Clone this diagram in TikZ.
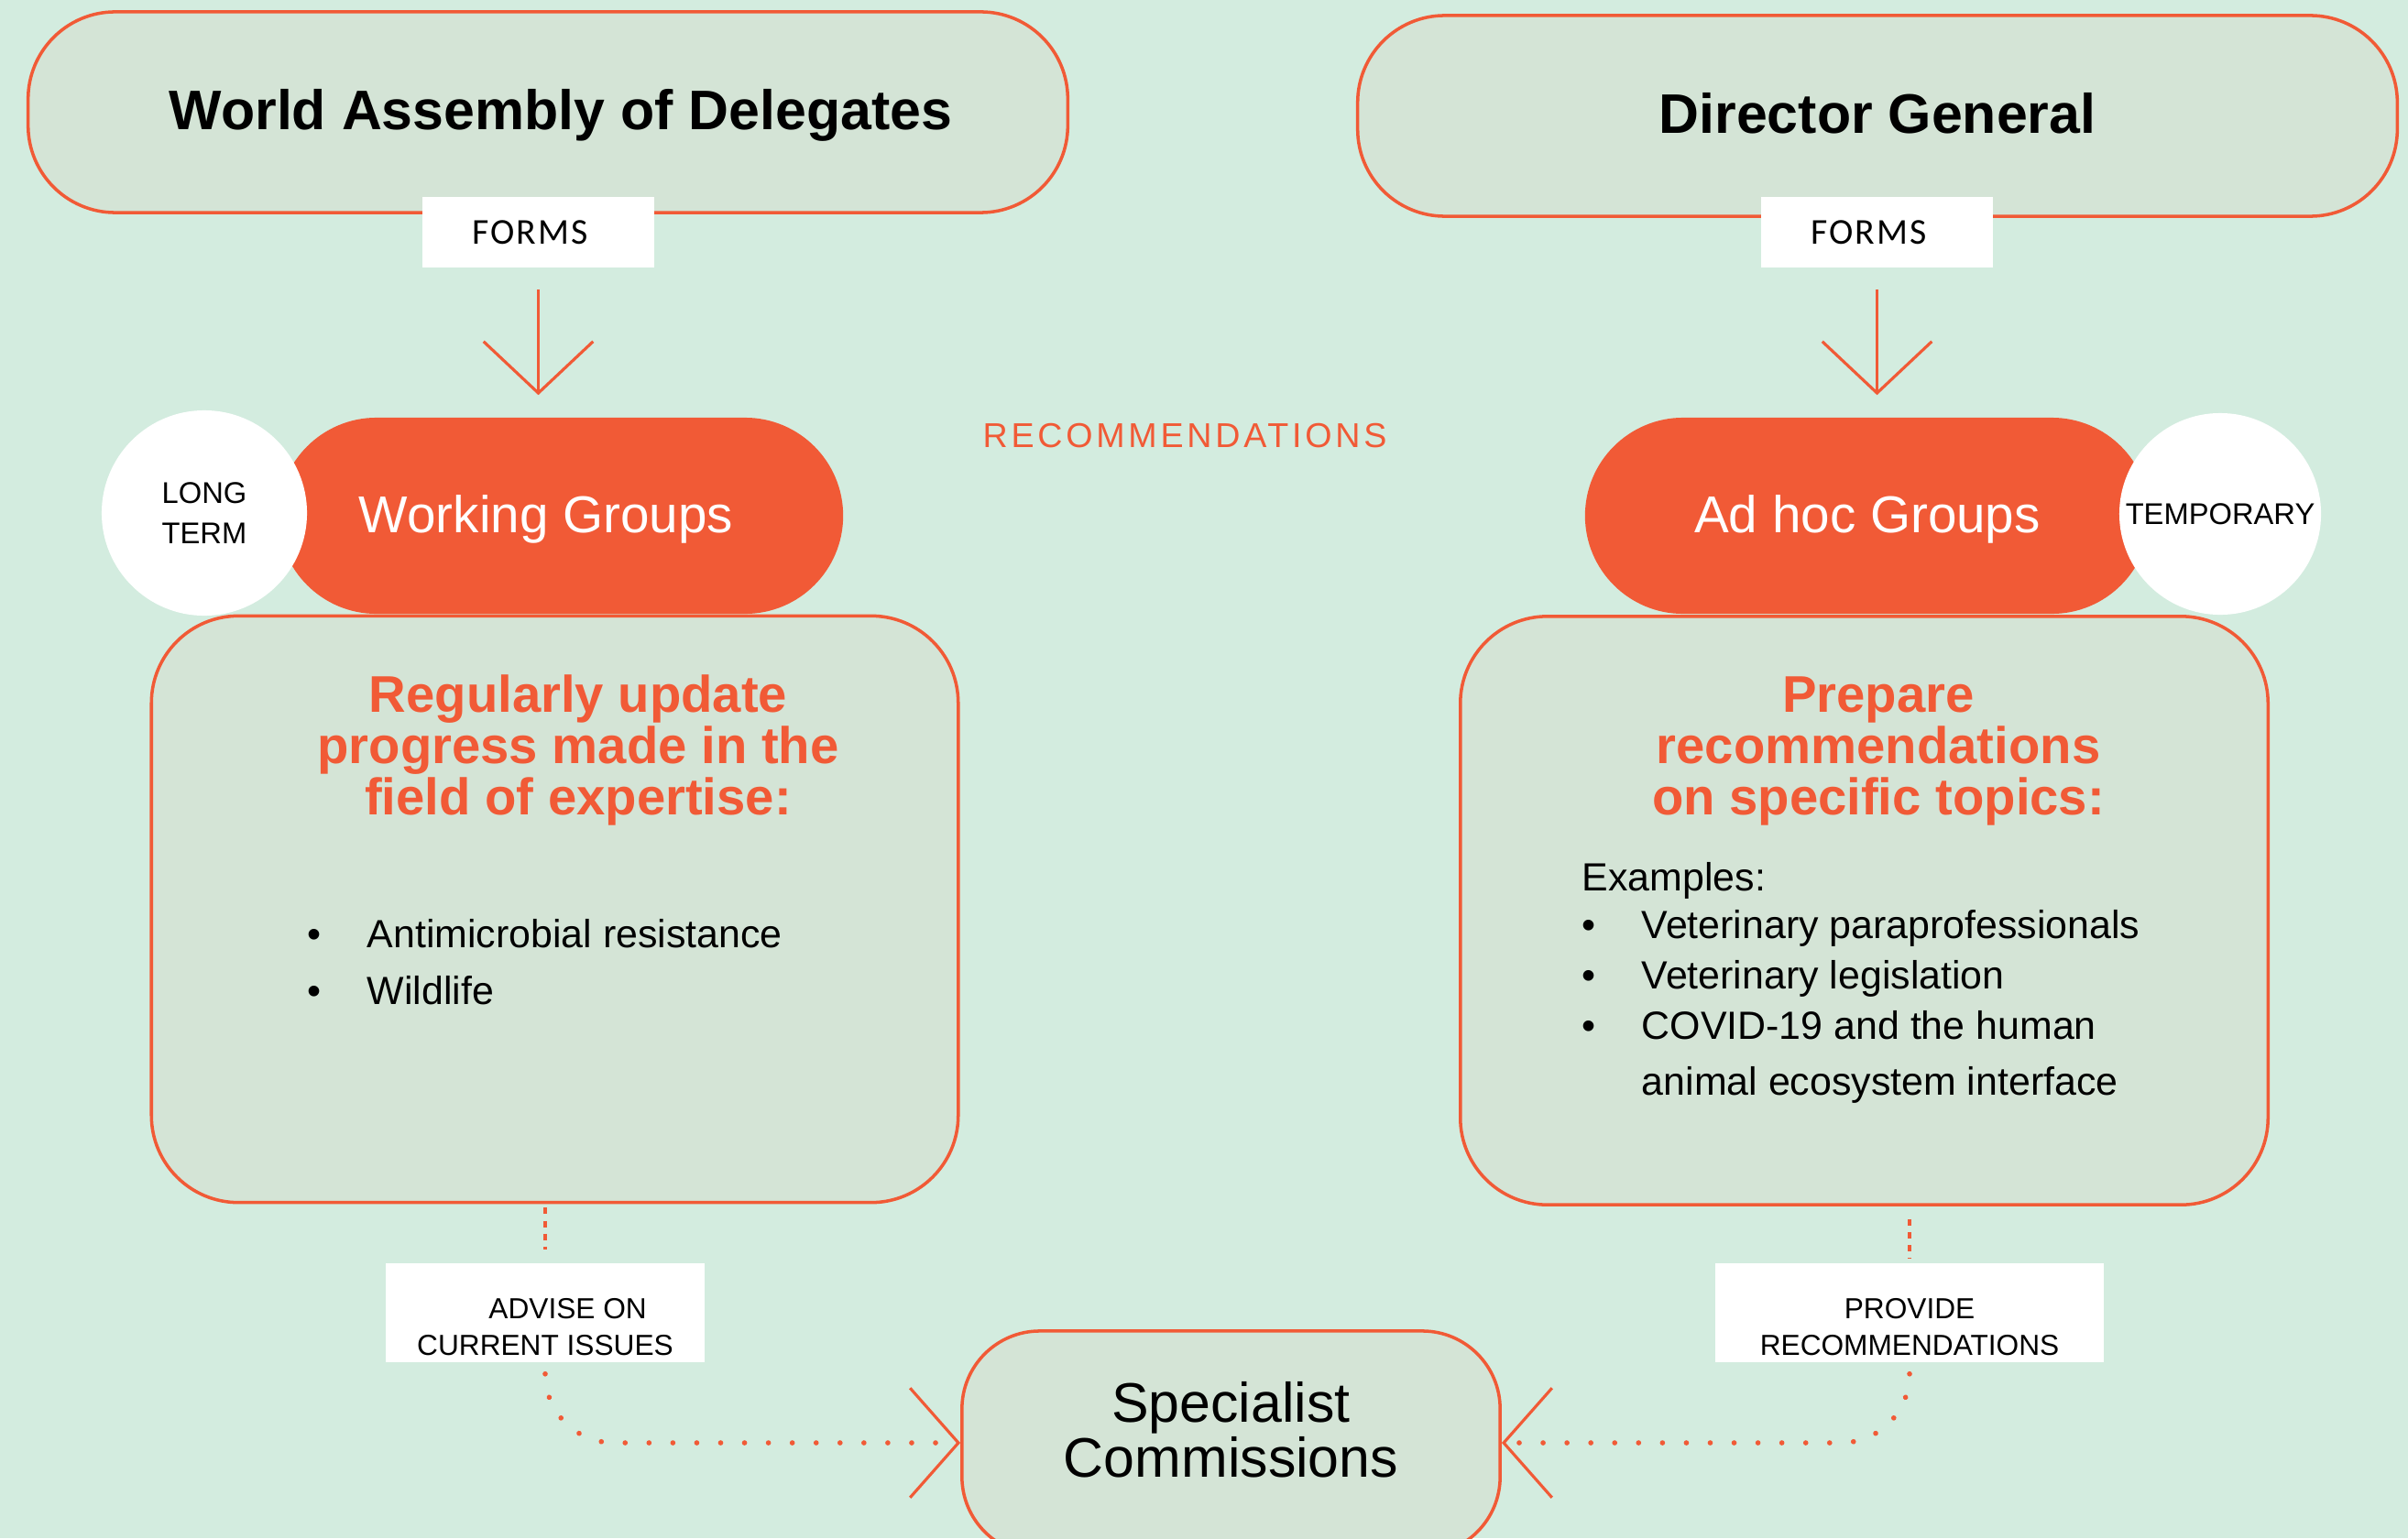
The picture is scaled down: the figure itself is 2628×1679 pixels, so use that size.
\documentclass[tikz,border=0pt]{standalone}
\usepackage{fontspec}
\setmainfont{Liberation Sans}
\newfontfamily\formsfont[LetterSpace=5]{Carlito}
\newfontfamily\spacedfont[LetterSpace=10]{Liberation Sans}
\usepackage{xcolor}
\usepackage{tikz}
\usetikzlibrary{arrows.meta,positioning}

\definecolor{bgmint}{HTML}{D3ECDF}
\definecolor{boxfill}{HTML}{D4E4D6}
\definecolor{oieorange}{HTML}{F15A36}
\newcommand{\bul}{\makebox[18.5pt][l]{•}}

\begin{document}
\begin{tikzpicture}[x=0.01cm, y=-0.01cm,
	topbox/.style={draw=oieorange, line width=1pt, fill=boxfill, rounded corners=0.95cm, text depth=1.5pt,
		minimum width=11.34cm, minimum height=2.19cm, font=\bfseries\fontsize{17.3}{20}\selectfont},
	pill/.style={fill=oieorange, rounded corners=1.07cm, minimum width=6.16cm, minimum height=2.14cm,
		text depth=1pt, text=white, font=\fontsize{16.1}{19}\selectfont},
	tag/.style={circle, fill=white, minimum size=2.24cm, inner sep=0pt, align=left,
		font=\fontsize{9.3}{12.4}\selectfont},
	taskbox/.style={draw=oieorange, line width=1pt, fill=boxfill, rounded corners=0.95cm,
		minimum width=8.8cm, minimum height=6.4cm},
	tasktitle/.style={align=center, anchor=base, text=oieorange, font=\bfseries\fontsize{16}{15.9}\selectfont},
	tasklist/.style={align=left, anchor=base west, inner sep=0pt, font=\fontsize{12.2}{15.6}\selectfont},
	formslabel/.style={fill=white, minimum width=2.53cm, minimum height=0.77cm,
		font=\formsfont\fontsize{11.3}{13}\selectfont},
	linklabel/.style={fill=white, minimum height=1.08cm, inner ysep=0pt, align=center, text height=26.2pt,
		text depth=0pt, font=\fontsize{9}{11.4}\selectfont},
	formsarrow/.style={draw=oieorange, line width=0.9pt, -{Straight Barb[length=16pt, width=34pt]}},
	stubdots/.style={draw=oieorange, line width=1.4pt, dash pattern=on 2pt off 2pt},
	linkdots/.style={draw=oieorange, line width=1.6pt, line cap=round, dash pattern=on 0.01pt off 7.4pt,
		rounded corners=0.75cm, -{Straight Barb[length=15pt, width=34pt, line width=0.9pt]}},
]
	\useasboundingbox (0,0) rectangle (2628,1679);
	\fill[bgmint] (0,0) rectangle (2628,1679);
	%
	\node[topbox] (wad) at (598,122.5) {\hspace*{0.28cm}World Assembly of Delegates};
	\node[topbox] (dg) at (2049,126.5) {Director General};
	\node[formslabel] (forms1) at (587.5,253.5) {\hspace*{-0.18cm}FORMS};
	\node[formslabel] (forms2) at (2048.5,253.5) {\hspace*{-0.18cm}FORMS};
	%
	\node[pill] (wg) at (612,563) {\hspace*{-0.32cm}Working Groups};
	\node[pill] (ag) at (2038,563) {Ad hoc Groups};
	\node[tag] (longterm) at (223,560) {LONG\\TERM};
	\node[tag, minimum size=2.2cm] (temporary) at (2423,561) {TEMPORARY};
	\draw[formsarrow, shorten <=0.23cm, shorten >=0.24cm] (forms1.south) -- (forms1.south |- wg.north);
	\draw[formsarrow, shorten <=0.23cm, shorten >=0.24cm] (forms2.south) -- (forms2.south |- ag.north);
	\node[text=oieorange, font=\spacedfont\fontsize{10.7}{12}\selectfont] (recs) at (1293,476) {RECOMMENDATIONS};
	%
	\node[taskbox] (wgtask) at (605.5,992.5) {};
	\node[taskbox, minimum width=8.81cm, minimum height=6.42cm] (agtask) at (2034.5,994) {};
	\node[tasktitle] (wgtitle) at (631,889) {Regularly update\\progress made in the\\field of expertise:};
	\node[tasktitle] (agtitle) at (2050,889) {Prepare\\recommendations\\on specific topics:};
	\node[tasklist] (wglist) at (335,1096) {\bul Antimicrobial resistance\\[1.8pt]\bul Wildlife};
	\node[tasklist] (aglist) at (1726,1195) {Examples:\\[-0.8pt]\bul Veterinary paraprofessionals\\
		\bul Veterinary legislation\\\bul COVID-19 and the human\\[1.7pt]\hspace*{18.5pt}animal ecosystem interface};
	%
	\node[draw=oieorange, line width=1pt, fill=boxfill, rounded corners=0.85cm, minimum width=5.87cm,
		minimum height=2.44cm, align=center, text depth=8.1pt, font=\fontsize{17.3}{16}\selectfont] (spec)
		at (1343.5,1575) {Specialist\\Commissions};
	\node[linklabel, minimum width=3.48cm] (advise) at (595,1433) {\hspace*{14pt}ADVISE ON\\CURRENT ISSUES};
	\node[linklabel, minimum width=4.24cm] (provide) at (2084,1433) {PROVIDE\\RECOMMENDATIONS};
	\draw[stubdots, shorten <=0.04cm, shorten >=0.14cm] (advise.north |- wgtask.south) -- (advise.north);
	\draw[stubdots, shorten <=0.14cm, shorten >=0.05cm] (provide.north |- agtask.south) -- (provide.north);
	\draw[linkdots, shorten <=0.12cm] (advise.south) |- (spec.west);
	\draw[linkdots, shorten <=0.12cm] (provide.south) |- (spec.east);
\end{tikzpicture}
\end{document}
